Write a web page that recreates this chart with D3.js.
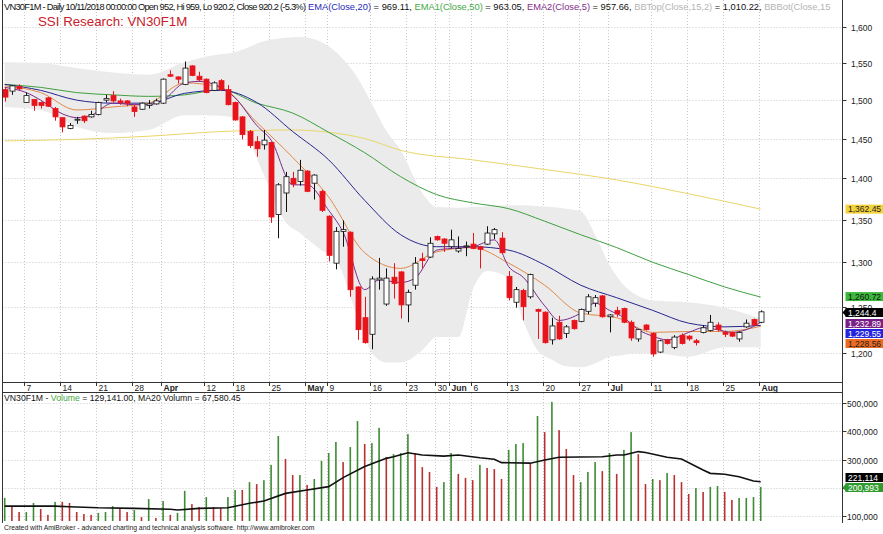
<!DOCTYPE html>
<html>
<head>
<meta charset="utf-8">
<script src="https://cdn.jsdelivr.net/npm/d3@7/dist/d3.min.js"></script>
<style>
  body { margin: 0; background: #fff; }
  text { font-family: "Liberation Sans", Arial, sans-serif; }
</style>
</head>
<body>
<script>
// daily bars, oldest first
var opens  = [1514,1512,1518,1497,1501,1497,1503,1489,1477,1463,1474,1479,1478,1481,1500,1506,1499,1499,1491,1488,1493,1495,1496,1534,1531,1521,1546,1532,1528,1513,1526,1514,1497,1478,1459,1446,1442,1445,1356,1382,1400,1396,1409,1394,1384,1354,1299,1336,1335,1272,1238,1220,1280,1253,1283,1289,1252,1274,1304,1306,1330,1327,1318,1313,1318,1321,1318,1321,1333,1328,1284,1255,1268,1261,1247,1244,1214,1233,1221,1235,1234,1245,1254,1262,1239,1246,1248,1233,1215,1230,1221,1201,1214,1206,1219,1218,1213,1222,1224,1230,1222,1222,1215,1228,1236,1233];
var highs  = [1517,1520,1521,1510,1501,1498,1504,1491,1477,1470,1478,1480,1486,1498,1507,1512,1502,1500,1494,1497,1500,1502,1529,1540,1532,1552,1547,1538,1529,1525,1528,1520,1498,1479,1461,1453,1461,1446,1394,1408,1408,1423,1410,1405,1386,1355,1341,1349,1336,1273,1261,1284,1305,1293,1299,1290,1269,1306,1311,1329,1331,1328,1338,1330,1324,1334,1319,1342,1340,1335,1290,1272,1270,1287,1248,1245,1238,1240,1230,1236,1248,1264,1263,1263,1242,1250,1249,1235,1226,1231,1222,1214,1215,1219,1221,1219,1215,1230,1241,1233,1224,1223,1223,1236,1237,1246];
var lows   = [1498,1507,1513,1497,1486,1489,1491,1473,1458,1462,1469,1470,1477,1480,1497,1497,1494,1492,1478,1487,1489,1494,1495,1531,1522,1520,1532,1525,1509,1512,1512,1493,1473,1449,1438,1427,1436,1346,1328,1359,1389,1391,1383,1374,1359,1301,1292,1318,1261,1214,1210,1204,1269,1251,1259,1237,1233,1269,1293,1305,1325,1312,1316,1311,1307,1315,1293,1320,1327,1310,1257,1249,1235,1259,1215,1210,1209,1214,1216,1225,1233,1242,1250,1238,1222,1239,1232,1213,1212,1224,1196,1200,1209,1204,1209,1213,1208,1221,1223,1223,1217,1217,1212,1227,1229,1232];
var closes = [1504,1519,1515,1506,1493,1493,1492,1478,1465,1467,1475,1473,1481,1497,1502,1499,1497,1496,1485,1496,1495,1499,1528,1532,1528,1543,1533,1527,1510,1523,1514,1494,1474,1455,1441,1437,1448,1353,1392,1402,1393,1410,1384,1404,1361,1308,1336,1338,1269,1225,1211,1281,1282,1282,1276,1252,1266,1299,1302,1322,1326,1322,1326,1316,1319,1316,1315,1334,1338,1311,1260,1269,1250,1286,1245,1211,1229,1215,1228,1226,1247,1261,1260,1239,1241,1242,1233,1216,1225,1225,1199,1213,1210,1217,1210,1215,1211,1227,1233,1225,1220,1218,1222,1232,1230,1244.4];

// volume in thousands, and 1 = green bar, 0 = red bar
var volumes = [164,132,114,114,146,125,104,150,150,146,114,107,104,111,114,135,128,114,121,96,160,93,153,104,111,189,142,132,167,132,128,167,192,192,220,213,227,281,383,302,245,245,210,231,295,323,362,291,344,436,355,358,412,309,319,323,390,323,273,256,203,220,323,249,235,227,281,270,266,231,334,355,358,284,454,397,504,404,337,245,220,256,291,259,323,249,334,397,319,213,231,227,252,245,220,178,199,185,203,206,185,157,164,164,167,203];
var volUp   = [1,0,0,1,1,0,0,1,0,0,0,0,0,1,1,1,0,0,1,0,1,0,1,0,1,1,0,0,1,0,0,1,1,0,1,0,1,1,1,0,0,1,0,1,1,1,1,0,1,1,0,1,1,0,1,1,1,0,0,0,0,1,1,0,0,0,1,0,0,0,1,1,1,0,1,0,1,0,0,0,1,1,1,0,1,0,1,1,0,0,1,0,1,0,0,0,1,0,1,1,0,0,1,1,1,1];

// indicator lines, [bar, value] pairs
var ma20Vol = [[0,135],[7,135],[9,133],[13,129],[18,127],[23,124],[24,121],[27,127],[31,129],[34,145],[36,153],[39,180],[42,192],[45,204],[47,236],[50,275],[53,304],[54,310],[56,324],[58,316],[61,312],[63,316],[66,306],[68,301],[69,289],[73,287],[75,298],[77,308],[83,310],[85,316],[86,316],[88,328],[89,325],[92,308],[94,302],[97,263],[98,251],[100,248],[102,239],[104,224],[105,221.114]];
var ema50 = [[0,1521],[5,1517],[10,1510],[15,1507],[20,1505],[25,1507],[30,1514],[35,1496],[40,1483],[45,1458],[50,1432],[55,1402],[60,1380],[65,1370],[70,1363],[75,1348],[80,1332],[85,1317],[90,1300],[95,1286],[100,1272],[105,1260.72]];
var ema20 = [[0,1521],[5,1513],[10,1500],[15,1496],[20,1496],[25,1509],[30,1513],[35,1497],[40,1459],[45,1423],[50,1373],[55,1332],[60,1318],[65,1318],[70,1314],[75,1297],[80,1274],[85,1260],[90,1246],[95,1232],[100,1228],[105,1229.55]];
var ema10 = [[0,1519],[5,1510],[10,1487],[15,1491],[20,1496],[25,1523],[30,1517],[35,1471],[40,1426],[45,1377],[50,1311],[55,1293],[60,1312],[65,1317],[70,1299],[75,1274],[80,1243],[85,1238],[90,1222],[95,1223],[100,1223],[105,1228.56]];
var ema5  = [[0,1517],[3,1510],[5,1500],[8,1482],[10,1477],[12,1480],[15,1496],[18,1494],[20,1494],[22,1500],[25,1523],[27,1525],[30,1517],[32,1503],[35,1467],[37,1448],[40,1392],[42,1392],[45,1361],[47,1335],[50,1269],[52,1280],[55,1277],[57,1282],[60,1314],[62,1316],[65,1318],[68,1326],[70,1295],[72,1283],[75,1251],[77,1235],[80,1243],[82,1254],[84,1246],[86,1238],[88,1225],[90,1218],[92,1214],[95,1222],[97,1227],[99,1225],[101,1222],[103,1225],[105,1232.89]];
var ma200 = [[0,1447],[10,1449],[20,1453],[30,1459],[40,1461],[45,1458],[50,1450],[55,1435],[65,1423],[75,1411],[85,1398],[95,1381],[105,1362.45]];
var bbIdx = [0,5,10,15,20,25,28,32,36,39,41,44,46,49,51,53,55,58,60,63,65,67,70,72,74,76,78,80,82,84,86,88,90,95,100,105];
var bbTop = [1551,1550,1543,1537,1534,1551,1559,1565,1580,1585,1586,1579,1565,1530,1495,1460,1435,1382,1365,1364,1365,1366,1367,1367,1366,1365,1363,1360,1332,1297,1274,1262,1257,1255,1249,1237];
var bbBot = [1491,1487,1465,1457,1461,1480,1480,1477,1404,1347,1334,1314,1303,1239,1200,1190,1190,1203,1217,1217,1269,1290,1282,1235,1203,1193,1186,1185,1189,1196,1198,1200,1200,1196,1206,1206];

// axis ticks
var dateTicks = [[3,"7"],[8,"14"],[13,"21"],[18,"28"],[22,"Apr"],[28,"12"],[32,"18"],[37,"25"],[42,"May"],[45,"9"],[51,"16"],[56,"23"],[60,"30"],[62,"Jun"],[65,"6"],[70,"13"],[75,"20"],[80,"27"],[84,"Jul"],[90,"11"],[95,"18"],[100,"25"],[105,"Aug"]];
var months = ["Apr","May","Jun","Jul","Aug"];
var priceTicks = [1200,1250,1300,1350,1400,1450,1500,1550,1600];
var volTicks = [100000,200000,300000,400000,500000];

var W = 883, H = 534;
var plotL = 2.5, plotR = 842.5;

var svg = d3.select("body").append("svg")
    .attr("width", W)
    .attr("height", H);

var xs = d3.scaleLinear().domain([0, 105]).range([4.7, 760.7]);
var yp = d3.scaleLog().domain([1200, 1600]).range([353, 27]);
var yv = d3.scaleLinear().domain([100000, 500000]).range([516, 403]);

svg.append("clipPath").attr("id", "clipP").append("rect")
    .attr("x", plotL).attr("y", 0).attr("width", plotR - plotL).attr("height", 382);
svg.append("clipPath").attr("id", "clipV").append("rect")
    .attr("x", plotL).attr("y", 393).attr("width", plotR - plotL).attr("height", 128);

var grid = svg.append("g")
    .attr("stroke", "#c8c8c8")
    .attr("stroke-dasharray", "1,2")
    .attr("stroke-width", 1);

//vertical grid through both panels
dateTicks.forEach(function(t) {
    var x = Math.round(xs(t[0]) - 2) + 0.5;
    grid.append("line").attr("x1", x).attr("x2", x).attr("y1", 0).attr("y2", 382);
    grid.append("line").attr("x1", x).attr("x2", x).attr("y1", 393).attr("y2", 521);
});
priceTicks.forEach(function(p) {
    var y = Math.round(yp(p)) + 0.5;
    grid.append("line").attr("x1", plotL).attr("x2", plotR).attr("y1", y).attr("y2", y);
});
volTicks.forEach(function(v) {
    var y = Math.round(yv(v)) + 0.5;
    grid.append("line").attr("x1", plotL).attr("x2", plotR).attr("y1", y).attr("y2", y);
});

// ---- price panel ----
var pp = svg.append("g").attr("clip-path", "url(#clipP)");

var band = d3.area()
    .x(function(d) { return xs(d); })
    .y0(function(d, i) { return yp(bbBot[i]); })
    .y1(function(d, i) { return yp(bbTop[i]); })
    .curve(d3.curveMonotoneX);
pp.append("path").datum(bbIdx)
    .attr("d", band)
    .attr("fill", "#ebebeb");

var line = d3.line()
    .x(function(d) { return xs(d[0]); })
    .y(function(d) { return yp(d[1]); })
    .curve(d3.curveMonotoneX);

var lines = [
    [ma200, "#e9d66a"],
    [ema50, "#3f9f3f"],
    [ema20, "#26268f"],
    [ema10, "#e0894a"],
    [ema5, "#7a2a8c"]
];
lines.forEach(function(l) {
    pp.append("path").datum(l[0])
        .attr("d", line)
        .attr("fill", "none")
        .attr("stroke", l[1])
        .attr("stroke-width", 1);
});

//candles
var bars = pp.selectAll(".candle")
    .data(closes)
    .enter()
    .append("g")
    .attr("class", "candle");

bars.append("line")
    .attr("x1", function(d, i) { return Math.round(xs(i)) + 0.5; })
    .attr("x2", function(d, i) { return Math.round(xs(i)) + 0.5; })
    .attr("y1", function(d, i) { return yp(highs[i]); })
    .attr("y2", function(d, i) { return yp(lows[i]); })
    .attr("stroke", function(d, i) { return d < opens[i] ? "#e8141c" : "#111"; });

bars.append("rect")
    .attr("x", function(d, i) { return Math.round(xs(i)) - 2; })
    .attr("width", 5)
    .attr("y", function(d, i) { return yp(Math.max(d, opens[i])); })
    .attr("height", function(d, i) { return Math.max(1, Math.abs(yp(d) - yp(opens[i]))); })
    .attr("fill", function(d, i) { return d < opens[i] ? "#e8141c" : "#fff"; })
    .attr("stroke", function(d, i) { return d < opens[i] ? "#e8141c" : "#111"; })
    .attr("stroke-width", 0.8);

// ---- volume panel ----
var vp = svg.append("g").attr("clip-path", "url(#clipV)");

vp.selectAll(".vol")
    .data(volumes)
    .enter()
    .append("rect")
    .attr("class", "vol")
    .attr("x", function(d, i) { return xs(i) - 0.8; })
    .attr("width", 1.6)
    .attr("y", function(d) { return yv(d * 1000); })
    .attr("height", function(d) { return 521 - yv(d * 1000); })
    .attr("fill", function(d, i) { return volUp[i] ? "#3f8a35" : "#b83232"; });

vp.append("path").datum(ma20Vol)
    .attr("d", d3.line()
        .x(function(d) { return xs(d[0]); })
        .y(function(d) { return yv(d[1] * 1000); }))
    .attr("fill", "none")
    .attr("stroke", "#111")
    .attr("stroke-width", 1.6);

// ---- frame and axes ----
var frame = svg.append("g").attr("stroke", "#333").attr("stroke-width", 1);
frame.append("line").attr("x1", plotL).attr("x2", plotL).attr("y1", 0).attr("y2", 523);
frame.append("line").attr("x1", plotR).attr("x2", plotR).attr("y1", 0).attr("y2", 523);
frame.append("line").attr("x1", plotL).attr("x2", plotR).attr("y1", 382.5).attr("y2", 382.5);
frame.append("line").attr("x1", plotL).attr("x2", plotR).attr("y1", 392.5).attr("y2", 392.5);

//date labels with the little tick mark in front
var xl = svg.append("g").attr("font-size", 8.5).attr("fill", "#222");
dateTicks.forEach(function(t) {
    var x = Math.round(xs(t[0]) - 2) + 0.5;
    xl.append("line").attr("x1", x).attr("x2", x).attr("y1", 383).attr("y2", 386)
        .attr("stroke", "#333");
    xl.append("text")
        .attr("x", x + 2)
        .attr("y", 390.5)
        .attr("font-weight", months.indexOf(t[1]) >= 0 ? "bold" : "normal")
        .text(t[1]);
});

var fmt = d3.format(",");
var yl = svg.append("g").attr("font-size", 8.5).attr("fill", "#222");
priceTicks.forEach(function(p) {
    var y = Math.round(yp(p)) + 0.5;
    yl.append("line").attr("x1", plotR).attr("x2", plotR + 4).attr("y1", y).attr("y2", y).attr("stroke", "#333");
    yl.append("text").attr("x", 851).attr("y", y + 3).text(fmt(p));
});
volTicks.forEach(function(v) {
    var y = Math.round(yv(v)) + 0.5;
    yl.append("line").attr("x1", plotR).attr("x2", plotR + 4).attr("y1", y).attr("y2", y).attr("stroke", "#333");
    yl.append("text").attr("x", 847).attr("y", y + 3).text(fmt(v));
});

//value badges on the right axis
function badge(v, bg, fg, y, arrow) {
    var g = svg.append("g");
    if (arrow) {
        g.append("path")
            .attr("d", "M" + plotR + "," + y + "l4,-4.5v9z")
            .attr("fill", bg);
    }
    g.append("rect").attr("x", 845.5).attr("y", y - 4.5).attr("width", 40).attr("height", 9).attr("fill", bg);
    g.append("text").attr("x", 848).attr("y", y + 3).attr("font-size", 8.5).attr("fill", fg).text(v);
}
badge("1,362.45", "#f3d23c", "#222", yp(1362.45), false);
badge("1,260.72", "#3cb83c", "#111", yp(1260.72) - 0.5, false);
badge("1,244.4", "#000", "#fff", 312.5, true);
badge("1,232.89", "#7a1f86", "#fff", 323.5, false);
badge("1,229.55", "#2424e0", "#fff", 333.5, false);
badge("1,228.56", "#ec6a24", "#222", 343.5, false);
badge("221,114", "#000", "#fff", 477.5, false);
badge("200,993", "#2f9a2f", "#fff", 487.5, true);

// ---- titles ----
//header is cut by the price axis, as in AmiBroker
svg.append("clipPath").attr("id", "clipH").append("rect")
    .attr("x", 0).attr("y", 0).attr("width", plotR - 1).attr("height", 14);
var hg = svg.append("g").attr("clip-path", "url(#clipH)").attr("font-size", 9.3);
hg.append("text").attr("x", 4).attr("y", 10).attr("fill", "#111")
    .attr("textLength", 302).attr("lengthAdjust", "spacing")
    .text("VN30F1M - Daily 10/11/2018 00:00:00 Open 952, Hi 959, Lo 920.2, Close 920.2 (-5.3%)");
var head = hg.append("text").attr("x", 308).attr("y", 10).attr("fill", "#111");
var parts = [
    ["EMA(Close,20)", "#2a2ab8"],
    [" = 969.11, ", "#111"],
    ["EMA1(Close,50)", "#45a845"],
    [" = 963.05, ", "#111"],
    ["EMA2(Close,5)", "#842a8c"],
    [" = 957.66, ", "#111"],
    ["BBTop(Close,15,2)", "#b4b4b4"],
    [" = 1,010.22, ", "#111"],
    ["BBBot(Close,15", "#b4b4b4"]
];
parts.forEach(function(p) { head.append("tspan").attr("fill", p[1]).text(p[0]); });

svg.append("text").attr("x", 38).attr("y", 25.5)
    .attr("font-size", 13.3).attr("fill", "#c8202a")
    .text("SSI Research: VN30F1M");

var vh = svg.append("text").attr("x", 4).attr("y", 401).attr("font-size", 8.7).attr("fill", "#111");
vh.append("tspan").text("VN30F1M - ");
vh.append("tspan").attr("fill", "#45a845").text("Volume");
vh.append("tspan").text(" = 129,141.00, MA20 Volumn = 67,580.45");

svg.append("text").attr("x", 4).attr("y", 530).attr("font-size", 6.8).attr("fill", "#222")
    .text("Created with AmiBroker - advanced charting and technical analysis software. http://www.amibroker.com");
</script>
</body>
</html>
